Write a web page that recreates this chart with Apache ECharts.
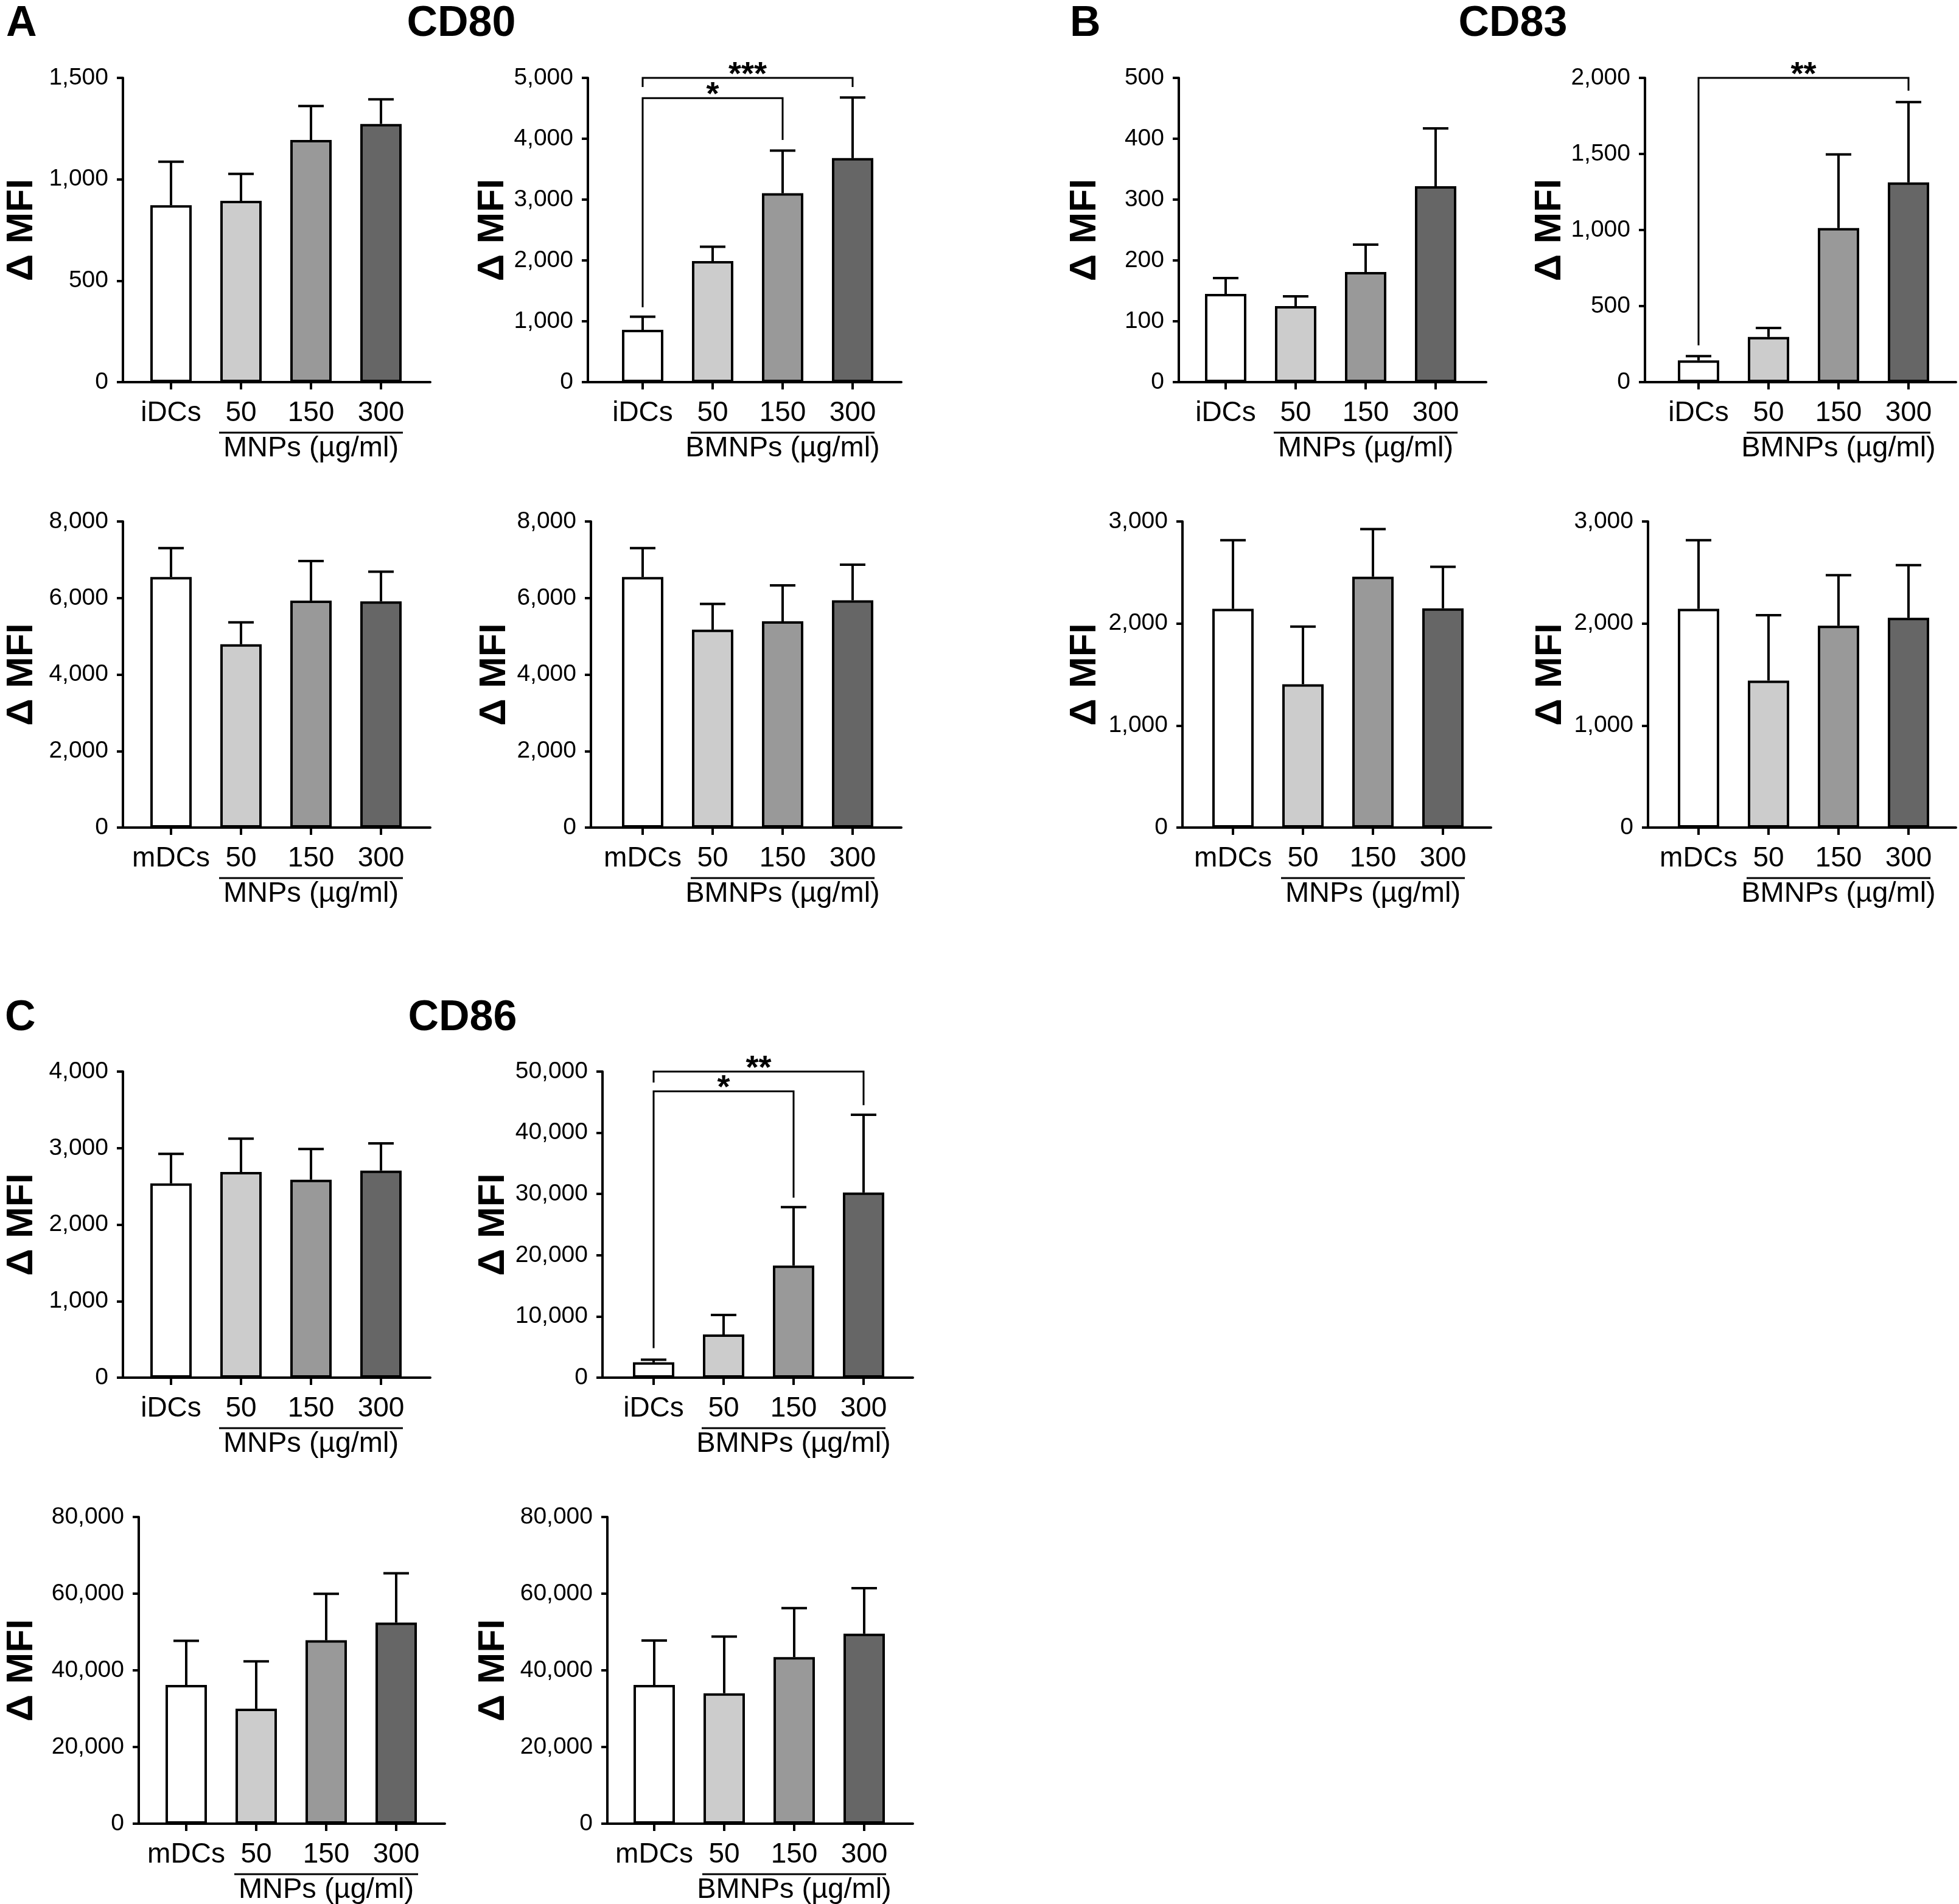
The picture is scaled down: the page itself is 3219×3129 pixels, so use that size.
<!DOCTYPE html>
<html>
<head>
<meta charset="utf-8">
<script src="https://cdn.jsdelivr.net/npm/echarts@6/dist/echarts.min.js"></script>
<style>
html, body { margin: 0; background: #fff; }
#chart { width: 3219px; height: 3129px; }
</style>
</head>
<body>
<div id="chart"></div>
<script>
var FONT = '"Liberation Sans", Arimo, Arial, sans-serif';
var barColors = ['#ffffff', '#cccccc', '#999999', '#666666'];

// categories
var catsI = ['iDCs', '50', '150', '300'];
var catsM = ['mDCs', '50', '150', '300'];
var groupMNP = 'MNPs (µg/ml)';
var groupBMNP = 'BMNPs (µg/ml)';

// CD80 (mean, sd)
var cd80MnpI = [872, 894, 1194, 1273];
var cd80MnpISd = [215, 133, 167, 121];
var cd80BmnpI = [860, 1990, 3104, 3682];
var cd80BmnpISd = [215, 234, 702, 995];
var cd80MnpM = [6550, 4791, 5934, 5912];
var cd80MnpMSd = [755, 572, 1033, 777];
var cd80BmnpM = [6550, 5172, 5392, 5941];
var cd80BmnpMSd = [755, 674, 938, 930];

// CD83
var cd83MnpI = [145, 125, 181, 322];
var cd83MnpISd = [26, 16, 45, 95];
var cd83BmnpI = [143, 297, 1013, 1313];
var cd83BmnpISd = [28, 59, 484, 528];
var cd83MnpM = [2144, 1405, 2459, 2149];
var cd83MnpMSd = [672, 565, 467, 407];
var cd83BmnpM = [2144, 1441, 1979, 2056];
var cd83BmnpMSd = [672, 640, 494, 516];

// CD86
var cd86MnpI = [2539, 2687, 2587, 2706];
var cd86MnpISd = [386, 437, 402, 355];
var cd86BmnpI = [2500, 7051, 18322, 30238];
var cd86BmnpISd = [430, 3177, 9533, 12711];
var cd86MnpM = [36180, 30015, 47845, 52452];
var cd86MnpMSd = [11516, 12333, 12110, 12853];
var cd86BmnpM = [36180, 34027, 43462, 49554];
var cd86BmnpMSd = [11600, 14784, 12778, 11887];

// significance brackets: [x1, x2, yLine, yLeftEnd, yRightEnd]
var sigCd80 = [[1, 3, 4667, 1230, 3980], [1, 4, 5000, 4850, 4850]];
var sigCd80Text = ['*', '***'];
var sigCd83 = [[1, 4, 2000, 242, 1916]];
var sigCd83Text = ['**'];
var sigCd86 = [[1, 3, 46772, 4816, 29394], [1, 4, 50000, 48200, 44500]];
var sigCd86Text = ['*', '**'];

// y axis ranges
var yMax = [1500, 5000, 500, 2000, 8000, 8000, 3000, 3000, 4000, 50000, 80000, 80000];
var yStep = [500, 1000, 100, 500, 2000, 2000, 1000, 1000, 1000, 10000, 20000, 20000];

// layout: [axisX, firstTickX, endX, top, bottom, nameGap]
var layout = [
  [202, 281, 707, 128, 628, 137],
  [966, 1056, 1481, 128, 628, 124],
  [1937, 2014, 2442, 128, 628, 125],
  [2703, 2791, 3214, 128, 628, 126],
  [202, 281, 707, 857, 1360, 137],
  [971, 1056, 1481, 857, 1360, 129],
  [1943, 2026, 2450, 857, 1360, 131],
  [2708, 2791, 3214, 857, 1360, 131],
  [202, 281, 707, 1761, 2264, 137],
  [990, 1074, 1500, 1761, 2264, 150],
  [228, 306, 731, 2493, 2997, 163],
  [998, 1075, 1500, 2493, 2997, 158]
];
var STEP_PX = 115;

var panels = [
  { cats: catsI, mean: cd80MnpI, sd: cd80MnpISd, group: groupMNP },
  { cats: catsI, mean: cd80BmnpI, sd: cd80BmnpISd, group: groupBMNP, sig: sigCd80, sigText: sigCd80Text },
  { cats: catsI, mean: cd83MnpI, sd: cd83MnpISd, group: groupMNP },
  { cats: catsI, mean: cd83BmnpI, sd: cd83BmnpISd, group: groupBMNP, sig: sigCd83, sigText: sigCd83Text },
  { cats: catsM, mean: cd80MnpM, sd: cd80MnpMSd, group: groupMNP },
  { cats: catsM, mean: cd80BmnpM, sd: cd80BmnpMSd, group: groupBMNP },
  { cats: catsM, mean: cd83MnpM, sd: cd83MnpMSd, group: groupMNP },
  { cats: catsM, mean: cd83BmnpM, sd: cd83BmnpMSd, group: groupBMNP },
  { cats: catsI, mean: cd86MnpI, sd: cd86MnpISd, group: groupMNP },
  { cats: catsI, mean: cd86BmnpI, sd: cd86BmnpISd, group: groupBMNP, sig: sigCd86, sigText: sigCd86Text },
  { cats: catsM, mean: cd86MnpM, sd: cd86MnpMSd, group: groupMNP },
  { cats: catsM, mean: cd86BmnpM, sd: cd86BmnpMSd, group: groupBMNP }
];

var grids = [], xAxes = [], yAxes = [], series = [];

panels.forEach(function (p, i) {
  var L = layout[i];
  var xmin = 1 - (L[1] - L[0]) / STEP_PX;
  var xmax = xmin + (L[2] - L[0]) / STEP_PX;
  grids.push({ left: L[0], top: L[3], width: L[2] - L[0], height: L[4] - L[3] });
  xAxes.push({
    type: 'value', gridIndex: i, min: xmin, max: xmax,
    splitLine: { show: false },
    axisLine: { show: true, onZero: false, lineStyle: { color: '#000', width: 4 } },
    axisTick: { show: true, customValues: [1, 2, 3, 4], length: 12, lineStyle: { color: '#000', width: 4 } },
    axisLabel: {
      customValues: [1, 2, 3, 4], margin: 28, color: '#000', fontSize: 46, fontFamily: FONT,
      formatter: function (v) { return p.cats[Math.round(v) - 1]; }
    }
  });
  yAxes.push({
    type: 'value', gridIndex: i, min: 0, max: yMax[i], interval: yStep[i],
    splitLine: { show: false },
    axisLine: { show: true, lineStyle: { color: '#000', width: 4 } },
    axisTick: { show: true, length: 10, lineStyle: { color: '#000', width: 4 } },
    axisLabel: {
      margin: 24, color: '#000', fontSize: 39, fontFamily: FONT,
      formatter: function (v) { return v.toLocaleString('en-US'); }
    },
    name: 'Δ MFI', nameLocation: 'middle', nameGap: L[5] - 2, nameRotate: 90,
    nameTextStyle: { color: '#000', fontSize: 62, fontWeight: 'bold', fontFamily: FONT }
  });

  // bars
  series.push({
    type: 'bar', xAxisIndex: i, yAxisIndex: i, barWidth: 68, z: 2,
    itemStyle: { borderColor: '#000', borderWidth: 4 },
    data: p.mean.map(function (v, j) {
      return { value: [j + 1, v], itemStyle: { color: barColors[j] } };
    })
  });

  // error bars (upper only)
  series.push({
    type: 'custom', xAxisIndex: i, yAxisIndex: i, z: 3,
    encode: { x: 0, y: [1, 2] },
    data: p.mean.map(function (v, j) { return [j + 1, v, v + p.sd[j]]; }),
    renderItem: function (params, api) {
      var a = api.coord([api.value(0), api.value(1)]);
      var b = api.coord([api.value(0), api.value(2)]);
      var st = { stroke: '#000', lineWidth: 4 };
      return {
        type: 'group',
        children: [
          { type: 'line', shape: { x1: a[0], y1: a[1], x2: b[0], y2: b[1] }, style: st },
          { type: 'line', shape: { x1: b[0] - 21, y1: b[1], x2: b[0] + 21, y2: b[1] }, style: st }
        ]
      };
    }
  });

  // group label under the axis
  series.push({
    type: 'custom', xAxisIndex: i, yAxisIndex: i, z: 3,
    data: [[2, 4]],
    renderItem: function (params, api) {
      var a = api.coord([api.value(0), 0]);
      var b = api.coord([api.value(1), 0]);
      var y = a[1] + 83;
      return {
        type: 'group',
        children: [
          { type: 'line', shape: { x1: a[0] - 36, y1: y, x2: b[0] + 36, y2: y }, style: { stroke: '#000', lineWidth: 3 } },
          { type: 'text', x: (a[0] + b[0]) / 2, y: y + 3,
            style: { text: p.group, font: '47px ' + FONT, fill: '#000', align: 'center', verticalAlign: 'top' } }
        ]
      };
    }
  });

  // significance brackets
  if (p.sig) {
    series.push({
      type: 'custom', xAxisIndex: i, yAxisIndex: i, z: 4,
      data: p.sig,
      renderItem: function (params, api) {
        var l = api.coord([api.value(0), api.value(2)]);
        var r = api.coord([api.value(1), api.value(2)]);
        var lb = api.coord([api.value(0), api.value(3)]);
        var rb = api.coord([api.value(1), api.value(4)]);
        return {
          type: 'group',
          children: [
            { type: 'polyline', shape: { points: [[lb[0], lb[1]], [l[0], l[1]], [r[0], r[1]], [rb[0], rb[1]]] },
              style: { stroke: '#000', lineWidth: 3, fill: null } },
            { type: 'text', x: (l[0] + r[0]) / 2, y: l[1] - 4,
              style: { text: p.sigText[params.dataIndex], font: 'bold 54px ' + FONT, fill: '#000', align: 'center', verticalAlign: 'middle' } }
          ]
        };
      }
    });
  }
});

function heading(text, x, y, align) {
  return { type: 'text', x: x, y: y,
    style: { text: text, font: 'bold 70px ' + FONT, fill: '#000', align: align, verticalAlign: 'middle' } };
}

var option = {
  animation: false,
  backgroundColor: '#fff',
  grid: grids,
  xAxis: xAxes,
  yAxis: yAxes,
  series: series,
  graphic: [
    heading('A', 10, 40, 'left'),
    heading('CD80', 758, 40, 'center'),
    heading('B', 1758, 40, 'left'),
    heading('CD83', 2486, 40, 'center'),
    heading('C', 8, 1674, 'left'),
    heading('CD86', 760, 1674, 'center')
  ]
};

var chart = echarts.init(document.getElementById('chart'));
chart.setOption(option);
</script>
</body>
</html>
